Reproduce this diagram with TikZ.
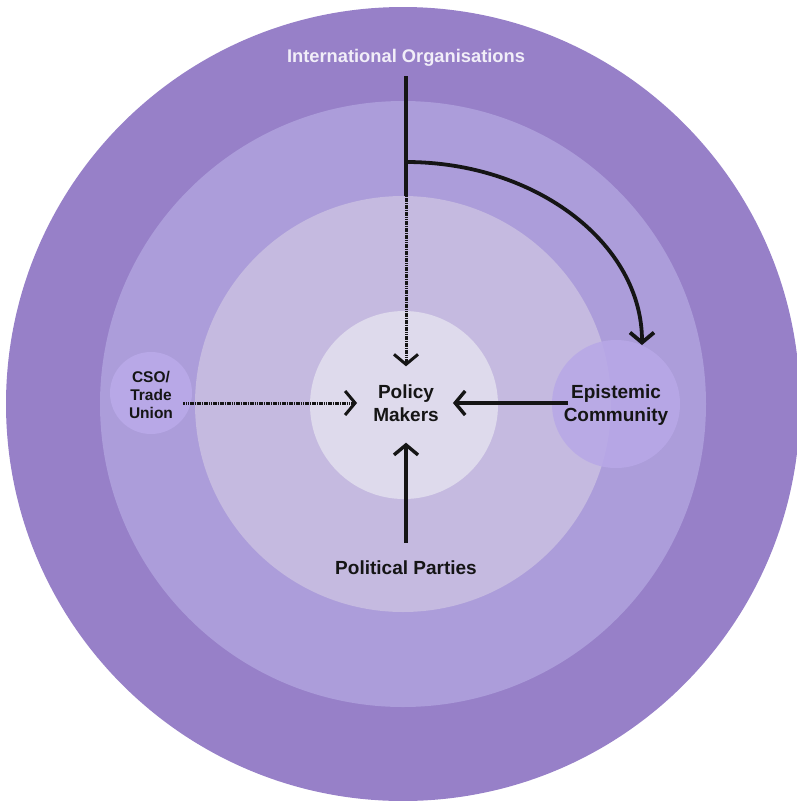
\documentclass[tikz,border=0pt]{standalone}
\usepackage{fontspec}
\setmainfont{Liberation Sans}
\usetikzlibrary{arrows.meta}

\definecolor{ringout}{HTML}{9780C8}
\definecolor{ringmid}{HTML}{AC9DDA}
\definecolor{ringin}{HTML}{C5BAE0}
\definecolor{core}{HTML}{DEDAEC}
\definecolor{actor}{HTML}{B8A8E7}
\definecolor{ink}{HTML}{151515}
\definecolor{paleink}{HTML}{F1EEF8}

\tikzset{
  disc/.style={circle,inner sep=0pt,minimum size=#1},
  lbl/.style={font=\bfseries\fontsize{19}{23}\selectfont,text=ink,align=center,inner sep=2pt},
  small/.style={font=\bfseries\fontsize{15.5}{18}\selectfont,text=ink,align=center,inner sep=2pt},
  flow/.style={draw=ink,line width=3.4pt,-{Straight Barb[length=10pt,width=24pt]}},
  weak/.style={flow,line width=3pt,dash pattern=on 1.6pt off 0.7pt},
}

\begin{document}
\begin{tikzpicture}[x=1pt,y=-1pt]
\useasboundingbox (0,0) rectangle (797,801);
% rings
\node (outer) [disc=794pt,fill=ringout] at (403,404) {};
\node (mid) [disc=606pt,fill=ringmid] at (403,404) {};
\node (inner) [disc=416pt,fill=ringin] at (403,404) {};
\node (coredisc) [disc=188pt,fill=core] at (404,405) {};
\node (csodisc) [disc=82pt,fill=actor] at (151,393) {};
\node (epidisc) [disc=128pt,fill=actor,fill opacity=0.85] at (616,404) {};

% labels
\node (io) [lbl,font=\bfseries\fontsize{18.3}{21}\selectfont,text=paleink] at (406,57.5) {International Organisations};
\node (pm) [lbl] at (406,403) {Policy\\Makers};
\node (cso) [small] at (151,395) {CSO/\\Trade\\Union};
\node (epi) [lbl] at (616,405) {Epistemic\\Community};
\node (pp) [lbl] at (406,568) {Political Parties};

% arrows
\coordinate (split) at (406,162);
\draw[draw=ink,line width=3.4pt,shorten <=8pt] (io.south) -- (io.south |- inner.north);
\draw[weak,shorten >=16pt] (io.south |- inner.north) -- (pm.north);
\draw[flow,line width=3.8pt] (split) arc[start angle=90,end angle=0,x radius=236pt,y radius=183pt];
\draw[weak,shorten <=-9pt,shorten >=14pt] (csodisc.east |- pm.west) -- (pm.west);
\draw[flow,shorten <=-6pt,shorten >=12pt] (epi.west |- pm.east) -- (pm.east);
\draw[flow,shorten <=16pt,shorten >=19pt] (pp.north) -- (pm.south);
\end{tikzpicture}
\end{document}
